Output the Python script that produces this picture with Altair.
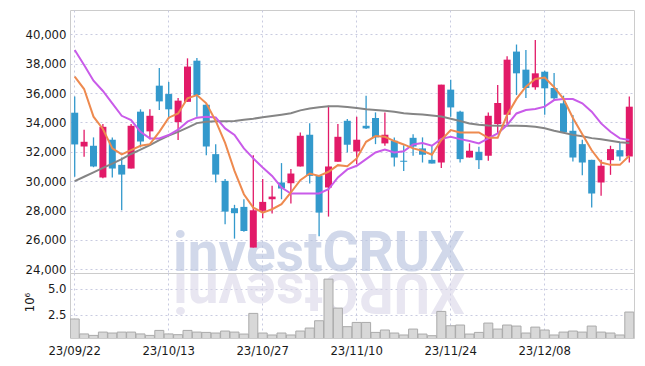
import altair as alt
import pandas as pd

dates = ["23/09/22","23/09/25","23/09/26","23/09/27","23/10/04","23/10/05","23/10/06","23/10/10","23/10/11","23/10/12",
         "23/10/13","23/10/16","23/10/17","23/10/18","23/10/19","23/10/20","23/10/23","23/10/24","23/10/25","23/10/26",
         "23/10/27","23/10/30","23/10/31","23/11/01","23/11/02","23/11/03","23/11/06","23/11/07","23/11/08","23/11/09",
         "23/11/10","23/11/13","23/11/14","23/11/15","23/11/16","23/11/17","23/11/20","23/11/21","23/11/22","23/11/23",
         "23/11/24","23/11/27","23/11/28","23/11/29","23/11/30","23/12/01","23/12/04","23/12/05","23/12/06","23/12/07",
         "23/12/08","23/12/11","23/12/12","23/12/13","23/12/14","23/12/15","23/12/18","23/12/19","23/12/20","23/12/21"]
tick_dates = ["23/09/22","23/10/13","23/10/27","23/11/10","23/11/24","23/12/08"]

opens = [34660,32360,32410,30250,32820,31110,30860,34730,33390,36500,
         35930,34020,35400,38200,35200,31840,30020,28160,28250,25480,
         27980,28770,29910,29860,31000,33160,30360,29570,31320,34110,
         32020,33770,34300,32570,32750,31390,32950,32230,31450,31270,
         36230,34730,31610,32000,31730,33890,34520,38820,37590,36390,
         37450,36340,35300,33430,32520,31450,29910,31430,32110,31680]
closes = [32500,32680,31000,33700,30860,30450,33770,32700,34450,35430,
          34890,35480,37800,35860,32360,30450,27930,27820,26610,28020,
          28590,28950,29500,30520,33090,30360,27860,31000,33020,32480,
          32820,33590,32980,33160,31610,31320,32360,31800,31200,36570,
          35020,31500,32070,31430,34450,35320,38270,37340,36340,37340,
          36320,35640,33320,31610,31270,29160,31050,32180,31680,35070]
highs = [35770,33500,32980,33890,32980,31610,33890,34890,34890,37700,
         36750,35660,38360,38390,35300,32520,30140,28390,28770,31770,
         30140,29680,31230,30820,33320,33950,30360,35140,33890,34230,
         34390,35820,34680,34680,32980,32450,33200,32980,32450,36570,
         36910,34800,32570,32340,34680,36550,38500,39300,38930,39610,
         37520,37360,35820,34500,32820,31450,31450,32410,32590,35770]
lows = [30300,31660,30950,30200,30250,28020,30860,32300,32860,34840,
        34230,32800,35400,34390,31770,29910,27070,26090,26550,25480,
        27480,27800,28770,28480,31000,29840,26250,27590,31320,31950,
        31160,33550,32520,32410,31000,30700,31730,31270,31200,30890,
        34390,31270,31610,30820,31390,33270,33890,35860,35660,36230,
        34520,35480,33320,31340,30410,28200,29000,30430,31390,31270]
ma5 = [37110,36270,34390,33550,32230,31820,32110,32410,32520,33360,
       34320,34610,35640,35860,35300,34100,32600,30700,29110,28200,
       27860,28090,28430,29230,30070,30520,30360,30640,31090,31020,
       31550,32680,33070,33020,32730,32500,32230,32070,31800,32800,
       33480,33320,33320,33320,32950,32950,34500,35600,36430,36950,
       37050,36400,35600,34300,33200,32100,31270,31110,31110,31730]
ma10 = [38930,37910,36840,36140,35300,34450,34160,33360,32910,32910,
        33140,33500,34050,34320,34390,34340,33590,33140,32230,31550,
        30930,30360,29570,29160,29160,29160,29160,29450,30250,30800,
        31050,31500,31950,32150,31950,32030,32500,32590,32410,32880,
        33020,32860,32730,32570,32910,33250,33820,34610,34840,34910,
        35070,35520,35590,35590,35300,34730,33930,33360,32910,32800]
ma_long = [30000,30300,30600,30900,31200,31500,31850,32150,32450,32800,
           33100,33350,33650,33950,34050,34070,34080,34100,34180,34250,
           34350,34430,34520,34620,34820,34950,35030,35100,35100,35050,
           34980,34900,34850,34790,34720,34620,34570,34530,34470,34400,
           34250,34100,33920,33840,33790,33770,33770,33770,33750,33700,
           33600,33430,33300,33150,33050,32930,32850,32750,32650,32600]
volume = [2.09,0.65,0.51,0.83,0.74,0.83,0.83,0.65,0.51,0.99,
          0.65,0.58,0.99,0.83,0.80,0.74,0.93,0.83,0.64,2.63,
          0.74,0.55,0.74,0.55,0.93,1.22,1.92,5.93,3.14,1.35,
          1.76,1.76,0.80,1.03,0.74,0.55,1.12,0.64,0.48,2.82,
          1.44,1.51,0.64,0.80,1.70,1.12,1.51,1.41,0.74,1.31,
          1.03,0.55,0.83,0.93,0.83,1.41,0.83,0.74,0.55,2.76]
price_ticks = [24000,26000,28000,30000,32000,34000,36000,38000,40000]
vol_ticks = [2.5, 5.0]
watermark = ["investCRUX"]

RED = "#e21a68"
BLUE = "#3399cc"
FONT = "DejaVu Sans Condensed"

df = pd.DataFrame({"date": dates, "open": opens, "close": closes, "high": highs, "low": lows,
                   "ma5": ma5, "ma10": ma10, "malong": ma_long, "vol": volume})
df["dir"] = ["up" if c >= o else "down" for o, c in zip(opens, closes)]

xscale = alt.Scale(paddingInner=0, paddingOuter=0)
x_top = alt.X("date:O", sort=dates, scale=xscale, title=None,
              axis=alt.Axis(values=tick_dates, labels=False, ticks=False, domain=False, grid=True,
                            minExtent=0, maxExtent=0, title=None))
x_bot = alt.X("date:O", sort=dates, scale=xscale, title=None,
              axis=alt.Axis(values=tick_dates, labelAngle=0, ticks=False, domain=False, grid=True,
                            labelPadding=6, title=None))

pscale = alt.Scale(domain=[23750, 41650], nice=False, zero=False)
p_axis = alt.Axis(values=price_ticks, format=",.0f", ticks=False, domain=False, grid=True,
                  labelPadding=4, minExtent=58, maxExtent=58, title=None)
color = alt.Color("dir:N", scale=alt.Scale(domain=["up", "down"], range=[RED, BLUE]), legend=None)

base = alt.Chart(df)

wm = alt.Chart(pd.DataFrame({"t": watermark})).mark_text(
    font="Roboto", fontWeight="bold", fontSize=55, color="#b9c4df", opacity=0.65,
    align="center", baseline="alphabetic"
).encode(text="t:N", x=alt.value(249), y=alt.value(261))

wicks = base.mark_rule(strokeWidth=1.3).encode(
    x=x_top, y=alt.Y("low:Q", scale=pscale, axis=p_axis), y2="high:Q", color=color)
bodies = base.mark_bar(size=7).encode(
    x=x_top, y=alt.Y("open:Q", scale=pscale, axis=p_axis), y2="close:Q", color=color)
l_long = base.mark_line(color="#858585", strokeWidth=2).encode(
    x=x_top, y=alt.Y("malong:Q", scale=pscale, axis=p_axis))
l10 = base.mark_line(color="#c95be9", strokeWidth=2).encode(
    x=x_top, y=alt.Y("ma10:Q", scale=pscale, axis=p_axis))
l5 = base.mark_line(color="#ee8a4f", strokeWidth=2).encode(
    x=x_top, y=alt.Y("ma5:Q", scale=pscale, axis=p_axis))

price = alt.layer(wm, wicks, bodies, l_long, l10, l5).properties(width=564, height=263)

vscale = alt.Scale(domain=[0.26, 6.52], nice=False, zero=False)
v_axis = alt.Axis(values=vol_ticks, format=".1f", ticks=False, domain=False, grid=True,
                  labelPadding=4, minExtent=58, maxExtent=58, title="10⁶",
                  titleX=-41, titleY=29, titleAngle=-90, titleAlign="center",
                  titleBaseline="middle", titleFont=FONT, titleFontSize=13,
                  titleFontWeight="normal", titleColor="#1a1a1a")

refl = alt.Chart(pd.DataFrame({"t": [w[::-1] for w in watermark]})).mark_text(
    font="Roboto", fontWeight="bold", fontSize=55, color="#d9d6e8", opacity=0.6,
    align="center", baseline="alphabetic", angle=180
).encode(text="t:N", x=alt.value(249), y=alt.value(1))

vbars = base.mark_bar(size=9, color="#d8d8d8", stroke="#aaaaaa", strokeWidth=1, clip=True).encode(
    x=x_bot, y=alt.Y("vol:Q", scale=vscale, axis=v_axis), y2=alt.datum(0))

vol = alt.layer(refl, vbars).properties(width=564, height=65)

chart = alt.vconcat(price, vol, spacing=0, bounds="flush").properties(
    padding={"left": 3, "top": 1, "right": 1, "bottom": 0}
).configure_view(stroke="#cccccc").configure_axis(
    labelFont=FONT, labelFontSize=13, labelColor="#1a1a1a",
    gridColor="#c8cbe0", gridDash=[2, 3], gridWidth=1
)

chart.save("out.html", embed_options={"renderer": "svg", "actions": False})
